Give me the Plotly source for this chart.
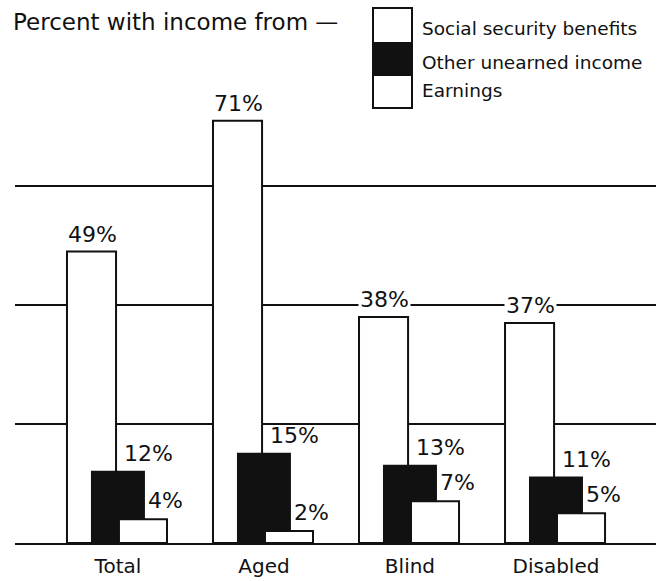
import plotly.graph_objects as go

categories = ["Total", "Aged", "Blind", "Disabled"]
social_security = [49, 71, 38, 37]
other_unearned = [12, 15, 13, 11]
earnings = [4, 2, 7, 5]
series_names = ["Social security benefits", "Other unearned income", "Earnings"]

W, H = 669, 581
ML, MR, MT, MB = 15, 13, 97, 38
PW, PH = W - ML - MR, H - MT - MB
FONT = "DejaVu Sans"
INK = "#111111"

def px_x(px):
    return (px - ML) / PW

def px_y(py):
    return (H - MB - py) / PH

xs = list(range(len(categories)))

fig = go.Figure()
bar_specs = [
    (social_security, "white", -0.349, 0.336),
    (other_unearned, INK, -0.178, 0.356),
    (earnings, "white", 0.007, 0.329),
]
for name, (vals, fill, off, wid) in zip(series_names, bar_specs):
    fig.add_trace(go.Bar(
        x=xs, y=vals, name=name,
        offset=off, width=wid,
        marker=dict(color=fill, line=dict(color=INK, width=2)),
        showlegend=False, hoverinfo="skip",
    ))

annotations = []
# value labels
for i, v in enumerate(social_security):
    annotations.append(dict(x=i - 0.175, y=v, xref="x", yref="y", text=f"{v}%",
                            showarrow=False, yanchor="bottom", xanchor="center", yshift=3,
                            bgcolor="white", borderpad=1,
                            font=dict(family=FONT, size=22, color=INK)))
for i, v in enumerate(other_unearned):
    annotations.append(dict(x=i + 0.025, y=v, xref="x", yref="y", text=f"{v}%",
                            showarrow=False, yanchor="bottom", xanchor="left", yshift=4,
                            font=dict(family=FONT, size=22, color=INK)))
for i, v in enumerate(earnings):
    annotations.append(dict(x=i + 0.19, y=v, xref="x", yref="y", text=f"{v}%",
                            showarrow=False, yanchor="bottom", xanchor="left", yshift=4,
                            font=dict(family=FONT, size=22, color=INK)))

# title
annotations.append(dict(x=px_x(11), y=px_y(22), xref="paper", yref="paper",
                        text="Percent with income from —", showarrow=False,
                        xanchor="left", yanchor="middle",
                        font=dict(family=FONT, size=23, color=INK)))

# legend (drawn manually as stacked boxes)
box_edges = [8, 43, 75, 108]
box_fills = ["white", INK, "white"]
label_y = [28, 62, 91]
shapes = []
for k, name in enumerate(series_names):
    shapes.append(dict(type="rect", xref="paper", yref="paper",
                       x0=px_x(373), x1=px_x(412), y0=px_y(box_edges[k + 1]), y1=px_y(box_edges[k]),
                       fillcolor=box_fills[k], line=dict(color=INK, width=2)))
    annotations.append(dict(x=px_x(420), y=px_y(label_y[k]), xref="paper", yref="paper",
                            text=name, showarrow=False, xanchor="left", yanchor="middle",
                            font=dict(family=FONT, size=18.5, color=INK)))

fig.update_layout(
    width=W, height=H,
    margin=dict(l=ML, r=MR, t=MT, b=MB, pad=0, autoexpand=False),
    paper_bgcolor="white", plot_bgcolor="white",
    barmode="overlay",
    annotations=annotations, shapes=shapes,
    xaxis=dict(range=[-0.705, 3.685], tickvals=xs, ticktext=categories,
               showgrid=False, zeroline=False, showline=True, linecolor=INK, linewidth=2,
               ticks="", ticklabelstandoff=4, automargin=False,
               tickfont=dict(family=FONT, size=20, color=INK), fixedrange=True),
    yaxis=dict(range=[0, 75], tickvals=[20, 40, 60], showticklabels=False,
               showgrid=True, gridcolor=INK, gridwidth=2, zeroline=False, automargin=False,
               showline=False, ticks="", fixedrange=True),
)

fig.write_html("out.html", config={"displayModeBar": False},
               post_script="document.documentElement.style.overflow='hidden';"
                           "document.body.style.margin='0';document.body.style.overflow='hidden';")
